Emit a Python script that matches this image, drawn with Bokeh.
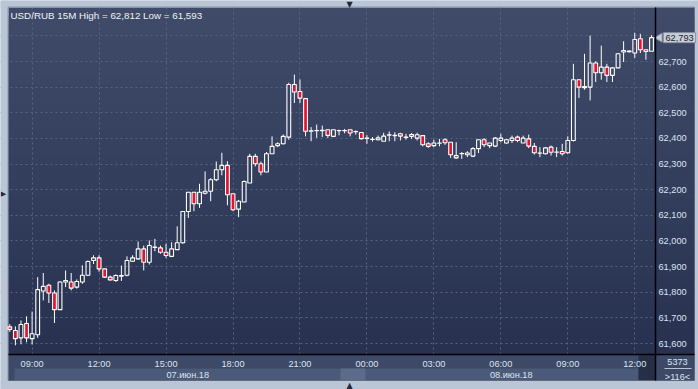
import numpy as np
import pandas as pd
from bokeh.plotting import figure
from bokeh.models import (ColumnDataSource, FixedTicker, NumeralTickFormatter,
                          DatetimeTickFormatter, DatetimeAxis, Range1d, Label, BoxAnnotation)
from bokeh.embed import file_html
from bokeh.resources import INLINE

# ---------------- data ----------------
symbol = "USD/RUB"
timeframe = "15M"
start_time = "2018-06-07 08:00"
volume_text = "5373"

opens = [61665, 61651, 61622, 61678, 61619, 61634, 61805, 61827, 61797, 61732,
         61840, 61840, 61820, 61840, 61866, 61924, 61934, 61891, 61859, 61846,
         61863, 61866, 61921, 61930, 61969, 61917, 61975, 61973, 61956, 61940,
         61966, 61993, 62115, 62190, 62145, 62186, 62194, 62239, 62278, 62295,
         62184, 62124, 62152, 62226, 62330, 62301, 62269, 62340, 62372, 62379,
         62405, 62610, 62583, 62555, 62428, 62430, 62430, 62434, 62408, 62430,
         62431, 62434, 62426, 62423, 62400, 62396, 62395, 62389, 62413, 62411,
         62418, 62404, 62415, 62401, 62411, 62379, 62372, 62381, 62395, 62385,
         62324, 62340, 62336, 62331, 62360, 62395, 62372, 62370, 62392, 62382,
         62392, 62405, 62382, 62398, 62369, 62342, 62340, 62366, 62346, 62349,
         62344, 62392, 62629, 62598, 62600, 62694, 62656, 62678, 62646, 62675,
         62737, 62738, 62733, 62789, 62746, 62740]
highs = [61675, 61667, 61690, 61706, 61725, 61859, 61875, 61833, 61807, 61842,
         61885, 61875, 61850, 61905, 61924, 61944, 61944, 61891, 61865, 61870,
         61904, 61940, 61944, 61998, 61982, 62002, 62008, 61982, 61989, 61995,
         62057, 62115, 62191, 62190, 62223, 62271, 62245, 62310, 62344, 62311,
         62184, 62160, 62236, 62340, 62340, 62310, 62347, 62408, 62385, 62415,
         62617, 62649, 62630, 62558, 62444, 62454, 62450, 62434, 62434, 62434,
         62437, 62434, 62431, 62423, 62413, 62405, 62411, 62422, 62427, 62424,
         62422, 62418, 62421, 62422, 62411, 62385, 62395, 62398, 62401, 62385,
         62385, 62347, 62350, 62366, 62395, 62401, 62382, 62405, 62418, 62398,
         62411, 62411, 62411, 62415, 62382, 62366, 62366, 62372, 62366, 62379,
         62408, 62691, 62629, 62730, 62801, 62701, 62762, 62691, 62678, 62733,
         62779, 62743, 62812, 62808, 62746, 62802]
lows = [61645, 61593, 61597, 61605, 61596, 61622, 61768, 61758, 61680, 61731,
        61820, 61807, 61814, 61833, 61864, 61910, 61880, 61856, 61846, 61840,
        61844, 61862, 61918, 61927, 61885, 61908, 61960, 61950, 61934, 61937,
        61966, 61989, 62090, 62116, 62129, 62181, 62155, 62233, 62256, 62139,
        62116, 62093, 62152, 62226, 62291, 62256, 62269, 62340, 62366, 62376,
        62395, 62538, 62538, 62408, 62389, 62402, 62405, 62402, 62405, 62412,
        62420, 62408, 62415, 62395, 62379, 62388, 62392, 62389, 62389, 62389,
        62392, 62395, 62398, 62392, 62369, 62363, 62366, 62369, 62375, 62324,
        62320, 62320, 62327, 62327, 62343, 62366, 62362, 62366, 62385, 62379,
        62382, 62385, 62382, 62362, 62337, 62327, 62337, 62333, 62327, 62333,
        62340, 62388, 62558, 62590, 62548, 62620, 62629, 62620, 62620, 62675,
        62698, 62735, 62714, 62733, 62707, 62740]
closes = [61655, 61619, 61674, 61622, 61638, 61810, 61823, 61797, 61732, 61840,
          61846, 61816, 61842, 61866, 61920, 61934, 61891, 61859, 61848, 61865,
          61865, 61924, 61934, 61969, 61917, 61982, 61976, 61956, 61943, 61969,
          61993, 62115, 62190, 62145, 62190, 62194, 62239, 62278, 62295, 62180,
          62122, 62155, 62232, 62330, 62301, 62269, 62340, 62369, 62379, 62408,
          62610, 62581, 62557, 62428, 62430, 62431, 62432, 62412, 62434, 62431,
          62430, 62421, 62427, 62399, 62401, 62397, 62402, 62409, 62414, 62412,
          62409, 62405, 62408, 62414, 62375, 62369, 62382, 62382, 62383, 62336,
          62333, 62341, 62343, 62360, 62395, 62375, 62382, 62401, 62401, 62395,
          62401, 62392, 62401, 62370, 62344, 62343, 62363, 62346, 62347, 62340,
          62392, 62629, 62600, 62602, 62694, 62656, 62678, 62646, 62675, 62730,
          62743, 62741, 62786, 62746, 62739, 62793]

time_ticks = ["2018-06-07 09:00", "2018-06-07 12:00", "2018-06-07 15:00",
              "2018-06-07 18:00", "2018-06-07 21:00", "2018-06-08 00:00",
              "2018-06-08 03:00", "2018-06-08 06:00", "2018-06-08 09:00",
              "2018-06-08 12:00"]
day_starts = ["2018-06-07 00:00", "2018-06-08 00:00"]
date_labels = ["07.июн.18", "08.июн.18"]
price_ticks = [61600, 61700, 61800, 61900, 62000, 62100, 62200, 62300,
               62400, 62500, 62600, 62700, 62800]
hidden_price_labels = [62800]   # covered by the last-price tag in the reference

# ---------------- layout / style constants ----------------
W, H = 698, 389
FONT = "Liberation Sans"
FS = "9.2px"
TXT = "#dbe4f2"
BAR = 15 * 60 * 1000
PX_BAR = 5.58           # pixels per 15-min bar
X_FIRST = 9.3           # pixel x of first bar
UNIT = 1100 / 282       # price units per pixel
Y_REF_PX, Y_REF_VAL = 61.0, 62700
PANEL_L, PANEL_R, PANEL_T, PANEL_B = 8, 694, 7, 380
PLOT_R, PLOT_B = 655, 354

def to_ms(ts):
    return pd.DatetimeIndex(pd.to_datetime(ts)).asi8 / 1e6

n = len(opens)
t = pd.date_range(start_time, periods=n, freq="15min").asi8 / 1e6

def cx(px):
    return t[0] + (px - X_FIRST) / PX_BAR * BAR

def cy(py):
    return Y_REF_VAL + (Y_REF_PX - py) * UNIT

o = np.array(opens, float); h = np.array(highs, float)
l = np.array(lows, float); c = np.array(closes, float)
top = np.maximum(o, c); bot = np.minimum(o, c)
up = c >= o
src = ColumnDataSource(dict(t=t, high=h, low=l, top=top, bot=bot,
                            fill=np.where(up, "#000000", "#e3142d"),
                            alpha=np.where(up, 0.0, 1.0)))

p = figure(width=W, height=H, x_axis_type="datetime", y_axis_location="right",
           x_range=Range1d(cx(0), cx(W)), y_range=Range1d(cy(H), cy(0)),
           toolbar_location=None, output_backend="svg",
           min_border_left=0, min_border_top=0, min_border_right=0, min_border_bottom=0)
p.border_fill_color = "#bac6d5"
p.background_fill_color = "#bac6d5"
p.outline_line_color = None

def grad(k, nb, top_rgb=(0x3f, 0x4b, 0x69), bot_rgb=(0x28, 0x32, 0x50)):
    f = k / (nb - 1)
    col = np.array(top_rgb) + (np.array(bot_rgb) - np.array(top_rgb)) * f
    return "#%02x%02x%02x" % tuple(int(round(v)) for v in col)

def panel(l_, r_, t_, b_, color, level="underlay", line=None):
    p.add_layout(BoxAnnotation(left=l_, right=r_, top=t_, bottom=b_,
                               left_units="canvas", right_units="canvas",
                               top_units="canvas", bottom_units="canvas",
                               fill_color=color, fill_alpha=1.0 if color else 0.0,
                               line_color=line, line_width=1, level=level))

# gradient background of the chart panel (below the grid)
NB = 40
for k in range(NB):
    yt_ = PANEL_T + (PLOT_B - PANEL_T) * k / NB
    panel(PANEL_L, PANEL_R, yt_, PANEL_B, grad(k, NB), level="image")

# grids
xt = FixedTicker(ticks=list(to_ms(time_ticks)))
yt = FixedTicker(ticks=price_ticks)
p.xgrid.ticker = xt
p.ygrid.ticker = yt
for g in (p.xgrid[0], p.ygrid[0]):
    g.grid_line_color = "#566381"
    g.grid_line_dash = "2 3"
    g.grid_line_width = 1

# right price column (covers grid), gradient as well
for k in range(NB):
    yt_ = PANEL_T + (PLOT_B - PANEL_T) * k / NB
    panel(PLOT_R, PANEL_R, yt_, PLOT_B, grad(k, NB))

# bottom bands
panel(PANEL_L, PANEL_R, PLOT_B, PANEL_B, "#3d4966")
panel(14, 638, 368, PANEL_B, "#4b5a78")
panel(340, 365, 368, PANEL_B, "#5b6b89")
panel(638, PLOT_R, PLOT_B, PANEL_B, "#252f48")
panel(664, 691, 367.5, 368.5, "#b7c2d4")

# light outer frame
panel(0, PANEL_L, 0, H, "#bac6d5")
panel(PANEL_R, W, 0, H, "#bac6d5")
panel(0, W, 0, PANEL_T, "#bac6d5")
panel(0, W, PANEL_B, H, "#bac6d5")
panel(PANEL_L - 0.5, PANEL_R, PANEL_T - 0.5, PANEL_B, None, line="#1e2536")

# candles
p.segment(x0="t", y0="high", x1="t", y1="top", source=src, line_color="white", line_width=1)
p.segment(x0="t", y0="bot", x1="t", y1="low", source=src, line_color="white", line_width=1)
p.vbar(x="t", width=0.68 * BAR, top="top", bottom="bot", source=src,
       fill_color="fill", fill_alpha="alpha", line_color="white", line_width=1.1)

# y axis (right, fixed at the price-column edge)
ya = p.yaxis[0]
ya.ticker = yt
ya.fixed_location = cx(PLOT_R)
ya.bounds = (cy(PANEL_B), cy(PANEL_T))
ya.formatter = NumeralTickFormatter(format="0,0")
ya.major_label_overrides = {v: "" for v in hidden_price_labels}
ya.axis_line_color = "black"
ya.axis_line_width = 1.5
ya.major_tick_line_color = None
ya.minor_tick_line_color = None
ya.major_tick_out = 0
ya.major_tick_in = 0
ya.major_label_standoff = 3
ya.major_label_text_font = FONT
ya.major_label_text_font_size = FS
ya.major_label_text_color = TXT

# time axis (below, fixed at plot bottom)
xa = p.xaxis[0]
xa.ticker = xt
xa.fixed_location = cy(PLOT_B)
xa.bounds = (cx(PANEL_L), cx(PANEL_R))
xa.formatter = DatetimeTickFormatter(hours="%H:%M", hourmin="%H:%M", days="%H:%M",
                                     minutes="%H:%M", minsec="%H:%M")
xa.axis_line_color = "black"
xa.axis_line_width = 1.5
xa.major_tick_line_color = None
xa.minor_tick_line_color = None
xa.major_tick_out = 0
xa.major_tick_in = 0
xa.major_label_standoff = 4
xa.major_label_text_font = FONT
xa.major_label_text_font_size = FS
xa.major_label_text_color = TXT

# date axis, each date centred on the visible part of its day
vis_l, vis_r = cx(PANEL_L), cx(PLOT_R)
ds = to_ms(day_starts)
centers = []
for d in ds:
    a = max(d, vis_l)
    b = min(d + 24 * 3600 * 1000, vis_r)
    centers.append(int(round((a + b) / 2)))
da = DatetimeAxis(ticker=FixedTicker(ticks=centers),
                  major_label_overrides={cc: lab for cc, lab in zip(centers, date_labels)})
da.fixed_location = cy(365)
da.axis_line_color = None
da.major_tick_line_color = None
da.minor_tick_line_color = None
da.major_tick_out = 0
da.major_tick_in = 0
da.major_label_standoff = 4
da.major_label_text_font = FONT
da.major_label_text_font_size = FS
da.major_label_text_color = TXT
p.add_layout(da, "below")

# last-price tag pointer
last_src = ColumnDataSource(dict(x=[cx(659)], y=[closes[-1]]))
p.scatter(x="x", y="y", source=last_src, marker="triangle", size=9, angle=np.pi / 2,
          fill_color="#c9ced7", line_color="#8a93a3", line_width=1)

# texts
def clabel(x, y, text, **kw):
    lab = Label(x=x, y=y, x_units="canvas", y_units="canvas", text=text,
                text_font=kw.pop("font", FONT), text_font_size=kw.pop("size", FS), **kw)
    p.add_layout(lab)
    return lab

title = f"{symbol} {timeframe} High = {max(highs):,} Low = {min(lows):,}"
clabel(10, 15, title, size="9.8px", text_color="#eef2f8", text_baseline="middle")
clabel(677, 361, volume_text, text_color=TXT, text_align="center", text_baseline="middle")
clabel(677, 376, f">{n}<", text_color=TXT, text_align="center", text_baseline="middle")

p.add_layout(Label(x=663, y=closes[-1], x_units="canvas", y_units="data",
                   text=f"{closes[-1]:,}", text_font=FONT, text_font_size=FS,
                   text_color="#1b2435", text_baseline="middle",
                   background_fill_color="#c9ced7", border_line_color="#8a93a3",
                   padding=2))

clabel(349, 3.5, "▼", font="DejaVu Sans", size="8px", text_color="#1f2840",
       text_align="center", text_baseline="middle")
clabel(349, 385, "▲", font="DejaVu Sans", size="8px", text_color="#1f2840",
       text_align="center", text_baseline="middle")
clabel(3, 193, "▶", font="DejaVu Sans", size="7px", text_color="#1f2840",
       text_align="center", text_baseline="middle")

open("out.html", "w").write(file_html(p, INLINE))
